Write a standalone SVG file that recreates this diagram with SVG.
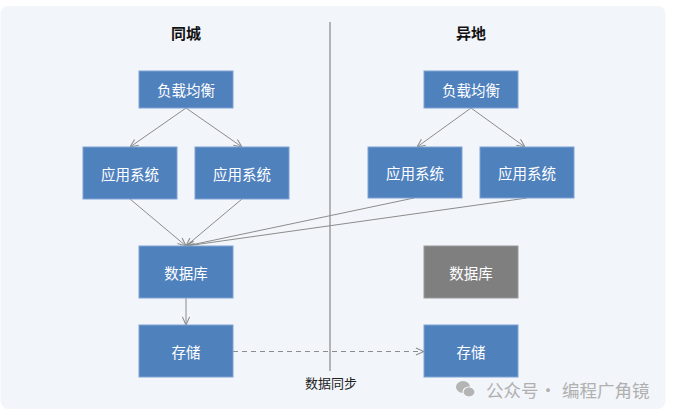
<svg xmlns="http://www.w3.org/2000/svg" width="677" height="416" viewBox="0 0 677 416">
<defs>
<style>
.box{fill:#4f81bd;stroke:#7ea3d4;stroke-width:1}
.gray{fill:#7f7f7f;stroke:#9a9a9a;stroke-width:1}
.bt{font-family:"Noto Sans CJK SC","Noto Sans",sans-serif;font-size:14.5px;fill:#ffffff;text-anchor:middle;dominant-baseline:central}
.title{font-family:"Noto Sans CJK SC","Noto Sans",sans-serif;font-size:15px;font-weight:bold;fill:#111;text-anchor:middle}
.ln{stroke:#8c8c8c;stroke-width:1;fill:none}
.wm{font-family:"Noto Sans CJK SC","Noto Sans",sans-serif;font-size:17.5px;fill:#b0b0b0}
</style>
<marker id="ah" viewBox="0 0 10 10" refX="10" refY="5" markerWidth="9" markerHeight="9" markerUnits="userSpaceOnUse" orient="auto">
<path d="M1,1 L10,5 L1,9" fill="none" stroke="#8c8c8c" stroke-width="1.2"/>
</marker>
</defs>
<rect x="0" y="0" width="677" height="416" fill="#ffffff"/>
<rect x="0.5" y="6" width="665" height="403" rx="8" fill="#f2f5fa"/>
<line x1="330" y1="22" x2="330" y2="371" stroke="#888" stroke-width="1.2"/>
<text class="title" x="186" y="39">同城</text>
<text class="title" x="471" y="39">异地</text>
<g id="connectors">
<line class="ln" x1="186" y1="108" x2="130" y2="147" marker-end="url(#ah)"/>
<line class="ln" x1="186" y1="108" x2="242" y2="147" marker-end="url(#ah)"/>
<line class="ln" x1="471" y1="108" x2="417" y2="147" marker-end="url(#ah)"/>
<line class="ln" x1="471" y1="108" x2="525" y2="147" marker-end="url(#ah)"/>
<line class="ln" x1="130" y1="199" x2="186" y2="246" marker-end="url(#ah)"/>
<line class="ln" x1="242" y1="199" x2="186" y2="246" marker-end="url(#ah)"/>
<line class="ln" x1="414" y1="198" x2="186" y2="246" marker-end="url(#ah)"/>
<line class="ln" x1="527" y1="198" x2="186" y2="246" marker-end="url(#ah)"/>
<line class="ln" x1="186" y1="298" x2="186" y2="325" marker-end="url(#ah)"/>
<line class="ln" x1="233" y1="351.5" x2="424" y2="351.5" stroke-dasharray="5,4" stroke="#aaa" marker-end="url(#ah)"/>
</g>
<g id="lb1"><rect class="box" x="139" y="71" width="94" height="37"/><text class="bt" x="186" y="89.5">负载均衡</text></g>
<g id="lb2"><rect class="box" x="424" y="71" width="94" height="37"/><text class="bt" x="471" y="89.5">负载均衡</text></g>
<g id="app1"><rect class="box" x="83" y="147" width="94" height="52"/><text class="bt" x="130" y="173">应用系统</text></g>
<g id="app2"><rect class="box" x="195" y="147" width="94" height="52"/><text class="bt" x="242" y="173">应用系统</text></g>
<g id="app3"><rect class="box" x="368" y="147" width="94" height="51"/><text class="bt" x="415" y="172.5">应用系统</text></g>
<g id="app4"><rect class="box" x="480" y="147" width="94" height="51"/><text class="bt" x="527" y="172.5">应用系统</text></g>
<g id="db1"><rect class="box" x="139" y="246" width="94" height="52"/><text class="bt" x="186" y="272">数据库</text></g>
<g id="db2"><rect class="gray" x="424" y="246" width="94" height="52"/><text class="bt" x="471" y="272">数据库</text></g>
<g id="st1"><rect class="box" x="139" y="325" width="94" height="52"/><text class="bt" x="186" y="351">存储</text></g>
<g id="st2"><rect class="box" x="424" y="325" width="94" height="52"/><text class="bt" x="471" y="351">存储</text></g>
<text x="331" y="388" font-family="'Noto Sans CJK SC','Noto Sans',sans-serif" font-size="13" fill="#222" text-anchor="middle">数据同步</text>
<g id="watermark">
<ellipse cx="463" cy="387" rx="7" ry="6" fill="#b4b4b4"/>
<ellipse cx="469" cy="392" rx="6" ry="5" fill="#b4b4b4" stroke="#f2f5fa" stroke-width="1.2"/>
<text class="wm" x="486" y="397">公众号</text>
<text class="wm" x="548" y="397" text-anchor="middle">·</text>
<text class="wm" x="562" y="397">编程广角镜</text>
</g>
</svg>
